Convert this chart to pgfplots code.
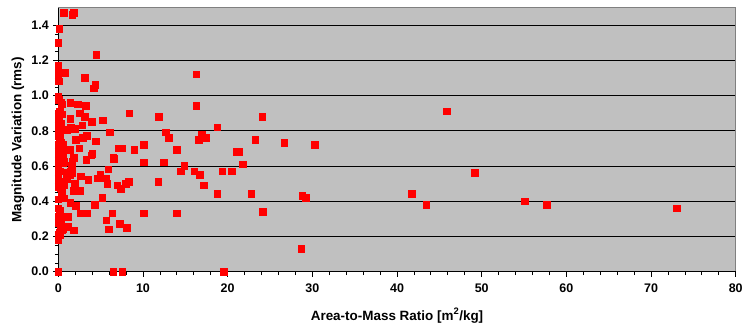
\documentclass[border=0pt]{standalone}
\usepackage{fontspec}
\setmainfont{Liberation Sans}
\usepackage{pgfplots}
\pgfplotsset{compat=1.18}
\definecolor{plotbg}{RGB}{192,192,192}
\definecolor{framegray}{RGB}{128,128,128}
\begin{document}
\begin{tikzpicture}
\begin{axis}[
  name=ax,
  scale only axis,
  width=677.4bp, height=264bp,
  xmin=0, xmax=80, ymin=0, ymax=1.5,
  xtick={0,10,...,80},
  ytick={0,0.2,...,1.4},
  minor x tick num=4,
  minor y tick num=3,
  tick align=outside,
  major tick length=5bp,
  minor tick length=3.5bp,
  tick style={black, line width=0.8bp},
  axis background/.style={fill=plotbg},
  axis line style={framegray, line width=0.8bp},
  ymajorgrids,
  major grid style={black, line width=0.9bp},
  xtick pos=bottom, ytick pos=left,
  /pgf/number format/assume math mode=true,
  every x tick label/.append style={font=\fontsize{12.5}{14}\selectfont\bfseries, yshift=-4bp},
  every y tick label/.append style={font=\fontsize{12.5}{14}\selectfont\bfseries, xshift=-1bp},
  yticklabel style={/pgf/number format/fixed, /pgf/number format/fixed zerofill, /pgf/number format/precision=1},
  xlabel={Area-to-Mass Ratio [m\textsuperscript{2}/kg]},
  xlabel style={font=\fontsize{13.5}{16}\selectfont\bfseries, at={(rel axis cs:0.5,0)}, anchor=center, yshift=-44bp},
  clip=false,
]
\draw[black, line width=0.9bp] (rel axis cs:0,0) -- (rel axis cs:1,0);
\draw[black, line width=0.9bp] (rel axis cs:0,0) -- (rel axis cs:0,1);
\addplot[only marks, mark=square*, mark size=3.3bp, mark options={fill=red, draw=red, line width=0pt}] table {
x y
45.9 0.91
49.2 0.56
41.8 0.44
43.5 0.38
55.1 0.40
57.7 0.38
73.1 0.36
24.1 0.88
23.3 0.75
26.7 0.73
30.3 0.72
22.8 0.44
28.85 0.43
29.25 0.42
24.2 0.34
28.7 0.13
21.8 0.61
21.1 0.68
21.4 0.68
19.4 0.57
20.5 0.57
18.8 0.44
18.8 0.82
17.2 0.49
16.1 0.57
16.7 0.55
16.3 1.12
16.3 0.94
17.0 0.78
16.6 0.75
17.5 0.76
14.05 0.69
14.5 0.57
14.9 0.60
14.05 0.33
12.5 0.62
12.7 0.79
13.1 0.76
11.9 0.88
11.85 0.51
10.1 0.72
10.1 0.62
10.1 0.33
9.0 0.69
8.4 0.90
8.38 0.51
8.03 0.50
8.1 0.25
7.3 0.27
7.0 0.49
7.4 0.47
7.2 0.70
7.5 0.70
6.5 0.65
6.6 0.64
6.1 0.79
5.95 0.58
5.0 0.55
4.7 0.53
5.6 0.53
5.79 0.50
5.3 0.86
5.24 0.42
5.7 0.29
6.42 0.33
6.0 0.24
6.5 0.0
7.6 0.0
19.6 0.0
0 0
4.5 1.23
4.37 1.06
4.2 1.04
3.15 1.10
3.27 0.94
2.36 0.95
1.46 0.96
3.15 0.88
2.56 0.90
3.98 0.85
1.42 0.866
2.85 0.83
1.53 0.82
1.95 0.81
1.0 0.805
3.42 0.77
2.95 0.76
4.45 0.74
2.09 0.75
2.48 0.70
1.38 0.69
0.83 0.69
4.06 0.67
3.9 0.66
3.35 0.635
1.85 0.645
1.62 0.60
1.46 0.57
1.03 0.56
1.7 0.56
0.99 0.55
2.7 0.54
3.59 0.52
1.03 0.525
2.0 0.50
1.82 0.46
2.6 0.46
0.7 0.49
0.64 0.415
1.45 0.39
2.1 0.375
4.3 0.38
2.6 0.33
3.4 0.33
1.15 0.31
1.15 0.255
1.82 0.233
0.44 0.237
0.6 0.24
0.1 0.21
0 0.18
0.24 0.265
0 0.29
0.2 0.345
0 0.41
0.24 0.475
0 0.51
0 0.55
0 0.59
0 0.615
0.64 0.625
1.7 0.625
0 0.63
0 0.66
0 0.68
0 0.72
0.35 0.735
0 0.77
0.1 0.805
0 0.83
0 0.86
0 0.90
0.44 0.894
0.44 0.95
0.05 0.975
0 0.995
0 1.09
0 1.12
0.83 1.13
0 1.15
0 1.17
0.1 1.08
0 1.30
0.16 1.38
0.67 1.47
1.7 1.46
1.85 1.47
0.2 0.76
0.6 0.72
0.2 0.70
0.6 0.66
0.6 0.615
0.28 0.57
0.6 0.49
0.4 0.30
0 0.36
0.2 0.22
0.1 0.275
0.47 0.46
0.47 0.42
0 0.48
0.4 0.48
0.2 0.51
0.1 0.79
0.36 0.84
0.12 0.886
0.2 0.91
0.4 0.957
0.25 0.21
0 0.31
1.46 0.55
1.58 0.59
};
\end{axis}
\node[rotate=90, anchor=center, font=\fontsize{13.5}{16}\selectfont\bfseries] at ([xshift=-40.3bp]ax.west) {Magnitude Variation (rms)};
\pgfresetboundingbox
\path[use as bounding box] ([shift={(-58.3bp,-53.3bp)}]ax.south west) rectangle ([shift={(8.3bp,7.7bp)}]ax.north east);
\end{tikzpicture}
\end{document}
